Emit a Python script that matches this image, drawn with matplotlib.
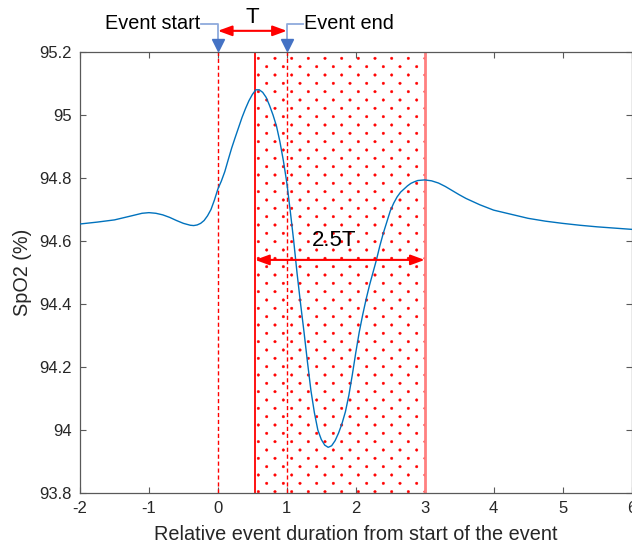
import numpy as np
import matplotlib
matplotlib.use("Agg")
import matplotlib.pyplot as plt
import matplotlib.hatch as mhatch
import matplotlib.transforms as mtrans

# ---- custom dot hatch: staggered small dots, rows at half spacing ----
try:
    class _HalfRowDots(mhatch.SmallFilledCircles):
        size = 0.075

        def __init__(self, hatch, density):
            super().__init__(hatch, density)
            n = self.num_rows
            if n:
                self.num_shapes = (n + 1) * (n + 1) + n * n
                self.num_vertices = self.num_shapes * len(self.shape_vertices)

        def set_vertices_and_codes(self, vertices, codes):
            n = self.num_rows
            offset = 1.0 / n
            sv = self.shape_vertices * offset * self.size
            vparts, cparts = [], []
            for row in range(2 * n + 1):
                if row % 2 == 0:
                    cols = np.linspace(0, 1, n + 1)
                else:
                    cols = np.linspace(offset / 2, 1 - offset / 2, n)
                for c in cols:
                    vparts.append(sv + [c, row * offset / 2])
                    cparts.append(self.shape_codes)
            np.concatenate(vparts, out=vertices)
            np.concatenate(cparts, out=codes)

    for _i, _t in enumerate(mhatch._hatch_types):
        if _t is mhatch.SmallFilledCircles:
            mhatch._hatch_types[_i] = _HalfRowDots
except Exception:
    pass

plt.rcParams['font.family'] = ['Liberation Sans', 'DejaVu Sans']
plt.rcParams['hatch.linewidth'] = 0.3
plt.rcParams['axes.unicode_minus'] = False

# ---- data ----
rel_time = [-2.0, -1.75, -1.5, -1.25, -1.1, -1.0, -0.9, -0.8, -0.7, -0.6,
            -0.5, -0.4, -0.35, -0.3, -0.25, -0.2, -0.15, -0.1, -0.05,
            0.0, 0.05, 0.1, 0.15, 0.2, 0.25, 0.3, 0.35, 0.4, 0.45,
            0.5, 0.55, 0.6, 0.65, 0.7, 0.75, 0.8, 0.85, 0.9, 0.95,
            1.0, 1.05, 1.1, 1.15, 1.2, 1.25, 1.3, 1.35, 1.4, 1.45,
            1.5, 1.55, 1.6, 1.65, 1.7, 1.75, 1.8, 1.85, 1.9, 1.95,
            2.0, 2.05, 2.1, 2.15, 2.2, 2.25, 2.3, 2.35, 2.4, 2.45,
            2.5, 2.55, 2.6, 2.65, 2.7, 2.75, 2.8, 2.85, 2.9, 3.0,
            3.1, 3.2, 3.3, 3.4, 3.5, 3.6, 3.8, 4.0, 4.25, 4.5,
            4.75, 5.0, 5.25, 5.5, 5.75, 6.0]
spo2 = [94.654, 94.660, 94.667, 94.680, 94.688, 94.690, 94.688, 94.683, 94.675, 94.665,
        94.656, 94.650, 94.649, 94.651, 94.656, 94.665, 94.680, 94.700, 94.730,
        94.765, 94.790, 94.820, 94.858, 94.895, 94.928, 94.960, 94.992, 95.020, 95.045,
        95.065, 95.080, 95.080, 95.072, 95.056, 95.030, 95.000, 94.965, 94.915, 94.855,
        94.785, 94.695, 94.600, 94.495, 94.400, 94.310, 94.215, 94.125, 94.055, 94.000,
        93.970, 93.952, 93.945, 93.950, 93.966, 93.990, 94.020, 94.058, 94.110, 94.175,
        94.245, 94.310, 94.365, 94.415, 94.460, 94.500, 94.540, 94.585, 94.625, 94.660,
        94.695, 94.720, 94.740, 94.755, 94.765, 94.775, 94.783, 94.788, 94.792, 94.794,
        94.791, 94.784, 94.773, 94.760, 94.747, 94.735, 94.715, 94.698, 94.685, 94.672,
        94.663, 94.656, 94.650, 94.645, 94.641, 94.637]

event_start = 0.0
event_end = 1.0
window_start = 0.54
window_end = 3.0

x_ticks = [-2, -1, 0, 1, 2, 3, 4, 5, 6]
y_ticks = [93.8, 94.0, 94.2, 94.4, 94.6, 94.8, 95.0, 95.2]
y_ticklabels = ['93.8', '94', '94.2', '94.4', '94.6', '94.8', '95', '95.2']

# ---- figure ----
W, H = 632, 552
fig = plt.figure(figsize=(W / 100, H / 100), dpi=100)
ax = fig.add_axes([80 / W, 1 - 493 / H, 551.5 / W, 441 / H])

# shaded window with dots
ax.axvspan(window_start, window_end, facecolor='none', edgecolor='red',
           hatch='.', linewidth=0, zorder=1)
ax.axvline(window_start, color='red', lw=1.3, zorder=2)
ax.axvline(window_end, color=(1, 0.5, 0.5), lw=2.0, zorder=2)
ax.axvline(event_start, color='red', lw=1.0, ls=(0, (3, 2)), zorder=2)
ax.axvline(event_end, color='red', lw=1.0, ls=(0, (3, 2)), zorder=2)

ax.plot(rel_time, spo2, color='#0072BD', lw=1.0, zorder=3)

ax.set_xlim(-2, 6)
ax.set_ylim(93.8, 95.2)
ax.set_xticks(x_ticks)
ax.set_yticks(y_ticks)
ax.set_yticklabels(y_ticklabels)

spine_col = '#595959'
for s in ax.spines.values():
    s.set_color(spine_col)
    s.set_linewidth(0.9)
ax.tick_params(direction='in', length=4, width=0.8, color=spine_col,
               labelcolor='#262626', labelsize=12, top=True, right=True,
               pad=6)

ax.set_xlabel('Relative event duration from start of the event',
              fontsize=14.3, color='#262626', labelpad=6)
ax.set_ylabel('SpO2 (%)', fontsize=14.3, color='#262626', labelpad=5)

# ---- annotations ----
blend = mtrans.blended_transform_factory(ax.transData, ax.transAxes)
arrow_red = dict(arrowstyle='<|-|>,head_length=0.6,head_width=0.22',
                 color='red', lw=1.5, shrinkA=0, shrinkB=0, mutation_scale=14)

# T arrow above the axes
ax.annotate('', xy=(event_start, 1.048), xytext=(event_end, 1.048),
            xycoords=blend, textcoords=blend, arrowprops=arrow_red,
            annotation_clip=False)
ax.text((event_start + event_end) / 2, 1.078, 'T', transform=blend,
        ha='center', va='center', fontsize=16, color='black', clip_on=False)

# 2.5T arrow in the window
ax.annotate('', xy=(window_start, 94.54), xytext=(window_end, 94.54),
            arrowprops=arrow_red, annotation_clip=False, zorder=4)
ax.text(1.69, 94.603, '2.5T', ha='center', va='center', fontsize=16,
        color='black', zorder=5)

# Event start / end callouts
conn_col = '#8FAADC'
tri_col = '#4472C4'
y_txt = 1.0635
y_bend_end = 1.030
y_tri = 1.017
ax.plot([event_start - 0.25, event_start, event_start],
        [y_txt, y_txt, y_bend_end], color=conn_col, lw=1.3,
        transform=blend, clip_on=False)
ax.plot([event_start], [y_tri], marker='v', ms=8, color=tri_col,
        transform=blend, clip_on=False, zorder=6)
ax.text(event_start - 0.26, y_txt, 'Event start', transform=blend,
        ha='right', va='center', fontsize=14.3, color='black', clip_on=False)

ax.plot([event_end + 0.23, event_end, event_end],
        [y_txt, y_txt, y_bend_end], color=conn_col, lw=1.3,
        transform=blend, clip_on=False)
ax.plot([event_end], [y_tri], marker='v', ms=8, color=tri_col,
        transform=blend, clip_on=False, zorder=6)
ax.text(event_end + 0.25, y_txt, 'Event end', transform=blend,
        ha='left', va='center', fontsize=14.3, color='black', clip_on=False)

fig.savefig('out.png', dpi=100)
